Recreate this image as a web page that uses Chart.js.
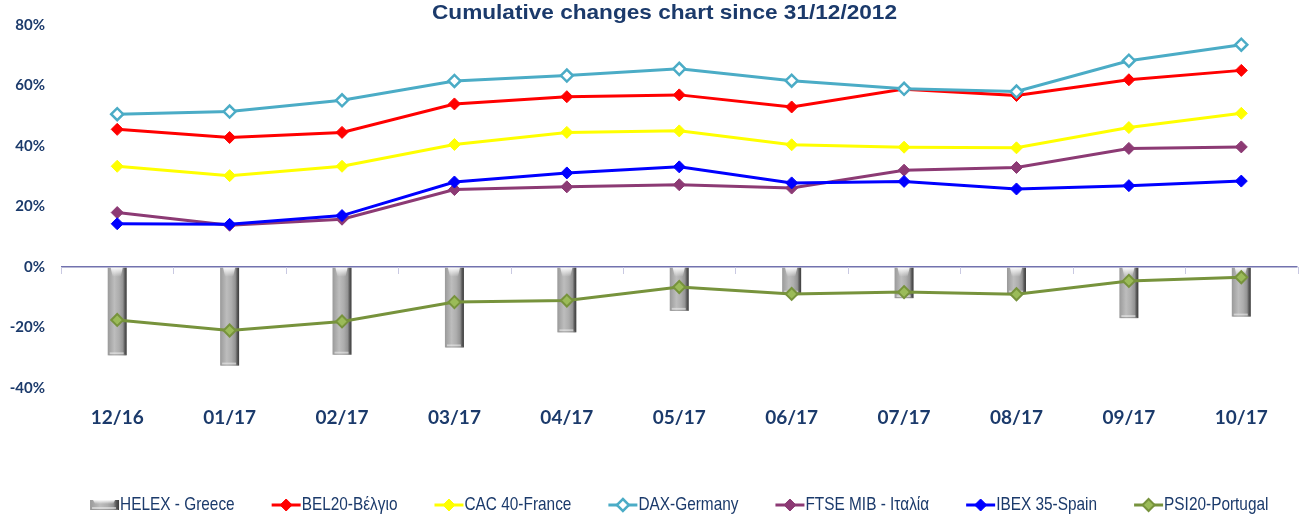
<!DOCTYPE html>
<html>
<head>
<meta charset="utf-8">
<script src="https://cdn.jsdelivr.net/npm/chart.js@4.4.1/dist/chart.umd.min.js"></script>
<style>
html,body{margin:0;padding:0;background:#fff;}
#wrap{width:1306px;height:514px;position:relative;}
</style>
</head>
<body>
<div id="wrap"><canvas id="c" width="1306" height="514"></canvas></div>
<script>
const categories = ['12/16','01/17','02/17','03/17','04/17','05/17','06/17','07/17','08/17','09/17','10/17'];
const helex = [-29.2, -32.6, -29.0, -26.6, -21.6, -14.5, -8.8, -10.3, -8.8, -16.9, -16.4];
const bel20 = [45.5, 42.8, 44.5, 53.9, 56.3, 56.9, 52.9, 58.8, 56.7, 61.9, 65.0];
const cac40 = [33.3, 30.2, 33.3, 40.5, 44.5, 45.0, 40.4, 39.6, 39.4, 46.1, 50.8];
const dax = [50.5, 51.4, 55.1, 61.5, 63.3, 65.5, 61.6, 58.9, 58.0, 68.2, 73.5];
const ftseMib = [18.0, 13.8, 15.8, 25.6, 26.5, 27.2, 26.1, 32.0, 32.9, 39.2, 39.7];
const ibex35 = [14.3, 14.1, 17.0, 28.1, 31.1, 33.1, 27.8, 28.3, 25.8, 26.9, 28.4];
const psi20 = [-17.5, -21.0, -18.0, -11.6, -11.1, -6.6, -8.9, -8.3, -9.0, -4.6, -3.4];
const yTicks = [-40, -20, 0, 20, 40, 60, 80];
const seriesNames = ['HELEX - Greece', 'BEL20-Βέλγιο', 'CAC 40-France', 'DAX-Germany', 'FTSE MIB - Ιταλία', 'IBEX 35-Spain', 'PSI20-Portugal'];
const titleText = 'Cumulative changes chart since 31/12/2012';

const NAVY = '#1B3A6B';

function barGradient(ctx, x0, x1) {
  const g = ctx.createLinearGradient(x0, 0, x1, 0);
  g.addColorStop(0, '#999999');
  g.addColorStop(0.12, '#a6a6a6');
  g.addColorStop(0.35, '#bdbdbd');
  g.addColorStop(0.6, '#adadad');
  g.addColorStop(0.8, '#939393');
  g.addColorStop(0.9, '#5a5a5a');
  g.addColorStop(1, '#3c3c3c');
  return g;
}

function drawCylinder(ctx, x0, top, w, h) {
  ctx.save();
  ctx.fillStyle = barGradient(ctx, x0, x0 + w);
  ctx.fillRect(x0, top, w, h);
  const hh = Math.min(9, h * 0.4);
  const g2 = ctx.createLinearGradient(0, top, 0, top + hh);
  g2.addColorStop(0, 'rgba(255,255,255,0.95)');
  g2.addColorStop(1, 'rgba(255,255,255,0)');
  ctx.fillStyle = g2;
  ctx.beginPath();
  ctx.moveTo(x0 + 3, top);
  ctx.lineTo(x0 + w - 4, top);
  ctx.lineTo(x0 + w - 6, top + hh);
  ctx.lineTo(x0 + 5, top + hh);
  ctx.closePath();
  ctx.fill();
  if (h > 6) {
    ctx.fillStyle = 'rgba(235,235,235,0.6)';
    ctx.fillRect(x0 + 2, top + h - 3, w - 5, 2);
    ctx.fillStyle = 'rgba(140,140,140,0.5)';
    ctx.fillRect(x0 + 1, top + h - 1, w - 2, 1);
  }
  ctx.restore();
}

const zeroTicksPlugin = {
  id: 'zeroTicks',
  beforeDatasetsDraw(chart) {
    const xs = chart.scales.x, ys = chart.scales.y;
    const ctx = chart.ctx;
    const y0 = ys.getPixelForValue(0);
    const n = categories.length;
    ctx.save();
    ctx.strokeStyle = '#C9C9E2';
    ctx.lineWidth = 1;
    for (let i = 0; i <= n; i++) {
      const x = Math.round(xs.left + i * xs.width / n) + 0.5;
      ctx.beginPath();
      ctx.moveTo(x, y0);
      ctx.lineTo(x, y0 + 7);
      ctx.stroke();
    }
    ctx.restore();
  }
};

const cylinderPlugin = {
  id: 'cylinders',
  afterDatasetDraw(chart, args) {
    const meta = args.meta;
    if (meta.type !== 'bar') return;
    const ctx = chart.ctx;
    meta.data.forEach(el => {
      const w = el.width;
      const x0 = el.x - w / 2;
      const top = Math.min(el.y, el.base);
      const h = Math.abs(el.y - el.base);
      drawCylinder(ctx, x0, top, w, h);
    });
  }
};

const NARROW = 0.81;
const textPlugin = {
  id: 'texts',
  afterDraw(chart) {
    const ctx = chart.ctx;
    const area = chart.chartArea;
    ctx.save();
    ctx.font = 'bold 21px "Liberation Sans", Arial, sans-serif';
    ctx.fillStyle = NAVY;
    ctx.textBaseline = 'alphabetic';
    ctx.textAlign = 'left';
    const tw = ctx.measureText(titleText).width;
    const sx = 465 / tw;
    ctx.save();
    ctx.translate(432, 19);
    ctx.scale(sx, 1);
    ctx.fillText(titleText, 0, 0);
    ctx.restore();

    ctx.font = '19px "Liberation Sans", Arial, sans-serif';
    const iconW = 29, gap = 1, sep = 37;
    const widths = chart.data.datasets.map(d => ctx.measureText(d.label).width * NARROW);
    let total = 0;
    widths.forEach((w, i) => { total += iconW + gap + w + (i < widths.length - 1 ? sep : 0); });
    let x = (area.left + area.right) / 2 - total / 2;
    const y = 505;
    chart.data.datasets.forEach((d, i) => {
      if (d.type === 'bar') {
        drawCylinder(ctx, x, y - 5, iconW, 10);
      } else {
        ctx.strokeStyle = d.borderColor;
        ctx.lineWidth = 3;
        ctx.beginPath();
        ctx.moveTo(x, y);
        ctx.lineTo(x + iconW, y);
        ctx.stroke();
        const cx = x + iconW / 2, r = d.pointRadius;
        ctx.beginPath();
        ctx.moveTo(cx, y - r);
        ctx.lineTo(cx + r, y);
        ctx.lineTo(cx, y + r);
        ctx.lineTo(cx - r, y);
        ctx.closePath();
        ctx.fillStyle = d.pointBackgroundColor;
        ctx.fill();
        ctx.lineWidth = d.pointBorderWidth;
        ctx.strokeStyle = d.pointBorderColor;
        ctx.stroke();
      }
      ctx.fillStyle = NAVY;
      ctx.textBaseline = 'middle';
      ctx.textAlign = 'left';
      ctx.save();
      ctx.translate(x + iconW + gap, y);
      ctx.scale(NARROW, 1);
      ctx.fillText(d.label, 0, 0);
      ctx.restore();
      x += iconW + gap + widths[i] + sep;
    });
    ctx.restore();
  }
};

function lineDs(label, data, color, fill, border, order, bw) {
  return {
    type: 'line', label, data,
    borderColor: color, borderWidth: 3,
    pointStyle: 'rectRot', pointRadius: 6, pointHoverRadius: 6,
    pointBackgroundColor: fill, pointBorderColor: border, pointBorderWidth: bw || 1,
    tension: 0, fill: false, order
  };
}

new Chart(document.getElementById('c'), {
  type: 'bar',
  data: {
    labels: categories,
    datasets: [
      { type: 'bar', label: seriesNames[0], data: helex, backgroundColor: 'rgba(0,0,0,0)', borderWidth: 0, barThickness: 19, order: 20 },
      lineDs(seriesNames[1], bel20, '#FF0000', '#FF0000', '#FF0000', 6),
      lineDs(seriesNames[2], cac40, '#FFFF00', '#FFFF00', '#FFFF00', 5),
      lineDs(seriesNames[3], dax, '#4BACC6', '#FFFFFF', '#4BACC6', 4, 2.5),
      lineDs(seriesNames[4], ftseMib, '#8C3A74', '#8C3A74', '#8C3A74', 3),
      lineDs(seriesNames[5], ibex35, '#0000FF', '#0000FF', '#0000FF', 2),
      lineDs(seriesNames[6], psi20, '#77933C', '#9BBB59', '#77933C', 1, 2)
    ]
  },
  options: {
    responsive: false,
    animation: false,
    events: [],
    layout: { padding: { top: 24, right: 0, left: 0, bottom: 0 } },
    plugins: { legend: { display: false }, title: { display: false }, tooltip: { enabled: false } },
    scales: {
      x: {
        grid: { display: false },
        border: { display: false },
        ticks: { color: NAVY, font: { family: 'Lato', weight: 'bold', size: 19 }, padding: 10, maxRotation: 0 },
        afterFit(scale) { scale.height = 126; }
      },
      y: {
        min: -40, max: 80,
        afterBuildTicks(scale) { scale.ticks = yTicks.map(v => ({ value: v })); },
        grid: {
          drawTicks: false,
          color: c => (c.tick && c.tick.value === 0) ? '#7272AE' : 'rgba(0,0,0,0)',
          lineWidth: c => (c.tick && c.tick.value === 0) ? 1.5 : 0
        },
        border: { display: false },
        ticks: { color: NAVY, font: { family: 'Lato', weight: 'bold', size: 15 }, padding: 16, callback: v => v + '%' },
        afterFit(scale) { scale.width = 61; }
      }
    }
  },
  plugins: [zeroTicksPlugin, cylinderPlugin, textPlugin]
});
</script>
</body>
</html>
